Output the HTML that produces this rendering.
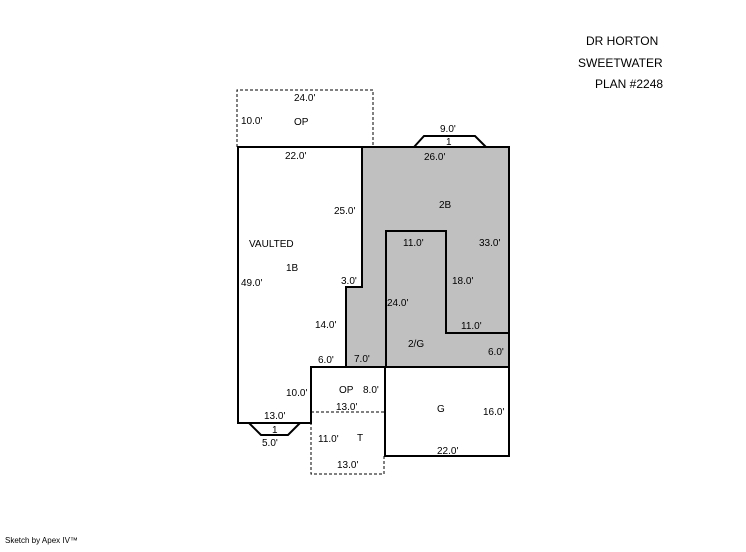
<!DOCTYPE html>
<html><head><style>
body{margin:0;background:#fff;}
svg text{font-family:"Liberation Sans",sans-serif;font-size:10px;fill:#000;}
</style></head><body>
<svg width="746" height="547" viewBox="0 0 746 547">
<text x="586" y="45" style="font-size:12px">DR HORTON</text>
<text x="578" y="67" style="font-size:12px">SWEETWATER</text>
<text x="595" y="88" style="font-size:12px">PLAN #2248</text>
<text x="5" y="543" style="font-size:8px">Sketch by Apex IV™</text>
<polygon points="362,147 509,147 509,367 346,367 346,287 362,287" fill="#c0c0c0"/>
<g fill="none" stroke="#000" stroke-width="2">
<polyline points="237,147 237,90 373,90 373,147" stroke-width="1" stroke-dasharray="3,2"/>
<polygon points="238,147 509,147 509,367 311,367 311,423 238,423"/>
<polyline points="362,147 362,287 346,287 346,367"/>
<polyline points="386,367 386,231 446,231 446,333 509,333"/>
<polyline points="414,147 424,136 475,136 486,147"/>
<polyline points="249,423 261,435 288,435 300,423"/>
<rect x="385" y="367" width="124" height="89"/>
<polyline points="311,412 311,474 384,474 384,456" stroke-width="1" stroke-dasharray="3,2"/>
<line x1="311" y1="412" x2="385" y2="412" stroke-width="1" stroke-dasharray="3,2"/>
</g>
<text x="294" y="101">24.0'</text><text x="241" y="124">10.0'</text><text x="294" y="125">OP</text>
<text x="440" y="132">9.0'</text><text x="446" y="145">1</text>
<text x="285" y="159">22.0'</text><text x="424" y="160">26.0'</text>
<text x="334" y="214">25.0'</text><text x="439" y="208">2B</text>
<text x="249" y="247">VAULTED</text><text x="403" y="246">11.0'</text><text x="479" y="246">33.0'</text>
<text x="286" y="271">1B</text>
<text x="241" y="286">49.0'</text><text x="341" y="284">3.0'</text><text x="452" y="284">18.0'</text>
<text x="387" y="306">24.0'</text>
<text x="315" y="328">14.0'</text><text x="461" y="329">11.0'</text>
<text x="408" y="347">2/G</text><text x="488" y="355">6.0'</text>
<text x="318" y="363">6.0'</text><text x="354" y="362">7.0'</text>
<text x="286" y="396">10.0'</text><text x="339" y="393">OP</text><text x="363" y="393">8.0'</text>
<text x="336" y="410">13.0'</text><text x="437" y="412">G</text><text x="483" y="415">16.0'</text>
<text x="264" y="419">13.0'</text>
<text x="272" y="433">1</text><text x="318" y="442">11.0'</text><text x="357" y="441">T</text>
<text x="262" y="446">5.0'</text><text x="437" y="454">22.0'</text>
<text x="337" y="468">13.0'</text>
</svg>
</body></html>
